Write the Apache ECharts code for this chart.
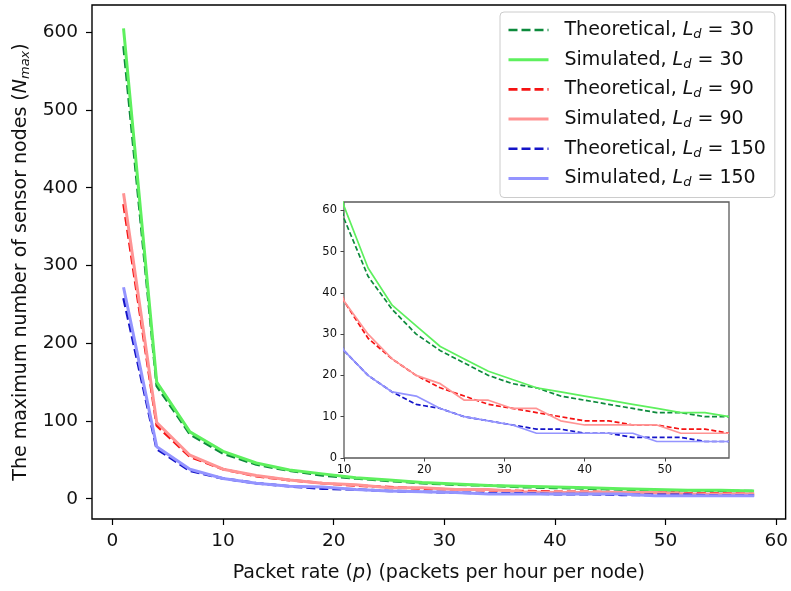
<!DOCTYPE html>
<html>
<head>
<meta charset="utf-8">
<script src="https://cdn.jsdelivr.net/npm/echarts@6/dist/echarts.min.js"></script>
<style>
  html, body { margin: 0; padding: 0; background: #ffffff; }
  #chart { width: 791px; height: 591px; }
</style>
</head>
<body>
<div id="chart"></div>
<script>
// Packet rate p (packets per hour per node)
const packetRate = [1, 4, 7, 10, 13, 16, 19, 22, 25, 28, 31, 34, 37, 40, 43, 46, 49, 52, 55, 58];

// Maximum number of sensor nodes N_max
const theoretical30 = [582, 145, 83, 58, 44, 36, 30, 26, 23, 20, 18, 17, 15, 14, 13, 12, 11, 11, 10, 10];
const simulated30   = [605, 150, 86, 61, 46, 37, 32, 27, 24, 21, 19, 17, 16, 15, 14, 13, 12, 11, 11, 10];
const theoretical90 = [379, 94, 54, 38, 29, 24, 20, 17, 15, 13, 12, 11, 10, 9, 9, 8, 8, 7, 7, 6];
const simulated90   = [393, 98, 56, 38, 30, 24, 20, 18, 14, 14, 12, 12, 9, 8, 8, 8, 8, 6, 6, 6];
const theoretical150 = [258, 64, 36, 26, 20, 16, 13, 12, 10, 9, 8, 7, 7, 6, 6, 5, 5, 5, 4, 4];
const simulated150   = [272, 67, 38, 26, 20, 16, 15, 12, 10, 9, 8, 6, 6, 6, 6, 6, 4, 4, 4, 4];

// Tick labels
const mainXTicks = [0, 10, 20, 30, 40, 50, 60];
const mainYTicks = [0, 100, 200, 300, 400, 500, 600];
const insetXTicks = [10, 20, 30, 40, 50];
const insetYTicks = [0, 10, 20, 30, 40, 50, 60];

const seriesDefs = [
  { name: 'Theoretical, Ld = 30',  kind: 'Theoretical', ld: 30,  values: theoretical30,  color: '#0d8a3c', dashed: true },
  { name: 'Simulated, Ld = 30',    kind: 'Simulated',   ld: 30,  values: simulated30,    color: '#5ef05e', dashed: false },
  { name: 'Theoretical, Ld = 90',  kind: 'Theoretical', ld: 90,  values: theoretical90,  color: '#f51212', dashed: true },
  { name: 'Simulated, Ld = 90',    kind: 'Simulated',   ld: 90,  values: simulated90,    color: '#ff9494', dashed: false },
  { name: 'Theoretical, Ld = 150', kind: 'Theoretical', ld: 150, values: theoretical150, color: '#1414c8', dashed: true },
  { name: 'Simulated, Ld = 150',   kind: 'Simulated',   ld: 150, values: simulated150,   color: '#9494ff', dashed: false }
];

const FONT = 'DejaVu Sans';
const TEXT = '#111111';

function pairs(values) {
  return packetRate.map((p, i) => [p, values[i]]);
}

function mainLineStyle(d) {
  return { color: d.color, width: d.dashed ? 2.6 : 3, type: d.dashed ? [9, 4] : 'solid' };
}

const series = [];
// Main panel
seriesDefs.forEach(d => {
  series.push({
    type: 'line', name: d.name, xAxisIndex: 0, yAxisIndex: 0, z: 3,
    data: pairs(d.values), symbol: 'none', showSymbol: false, silent: true,
    lineStyle: mainLineStyle(d),
    itemStyle: { color: d.color }
  });
});
// Zoomed-in panel (p from 10 to 58)
seriesDefs.forEach(d => {
  series.push({
    type: 'line', name: 'inset ' + d.name, xAxisIndex: 1, yAxisIndex: 1, z: 6,
    data: pairs(d.values), symbol: 'none', showSymbol: false, silent: true, clip: true,
    lineStyle: { color: d.color, width: 1.7, type: d.dashed ? [5, 2.5] : 'solid' },
    itemStyle: { color: d.color }
  });
});

const byName = {};
seriesDefs.forEach(d => { byName[d.name] = d; });

const chart = echarts.init(document.getElementById('chart'), null, { renderer: 'canvas' });
chart.setOption({
  animation: false,
  backgroundColor: '#ffffff',
  textStyle: { fontFamily: FONT },
  grid: [
    { left: 92, top: 5, width: 694, height: 514, show: true, borderColor: '#000000', borderWidth: 1.4, backgroundColor: 'transparent', containLabel: false },
    { left: 344, top: 202, width: 385, height: 256, show: true, borderColor: '#5a5a5a', borderWidth: 1.3, backgroundColor: '#ffffff', containLabel: false }
  ],
  xAxis: [
    {
      type: 'value', gridIndex: 0, min: -1.85, max: 60.85, position: 'bottom',
      axisLine: { show: false, onZero: false }, splitLine: { show: false },
      axisTick: { show: true, length: 6, lineStyle: { color: '#000', width: 1.2 }, customValues: mainXTicks },
      axisLabel: { show: true, margin: 13, fontSize: 18.5, color: TEXT, fontFamily: FONT, customValues: mainXTicks },
      name: 'Packet rate ({i|p}) (packets per hour per node)',
      nameLocation: 'middle', nameGap: 45,
      nameTextStyle: { fontSize: 19, color: TEXT, fontFamily: FONT,
        rich: { i: { fontSize: 19, fontStyle: 'italic', color: TEXT, fontFamily: FONT } } }
    },
    {
      type: 'value', gridIndex: 1, min: 10, max: 58, position: 'bottom',
      axisLine: { show: false, onZero: false }, splitLine: { show: false },
      axisTick: { show: true, length: 3.5, lineStyle: { color: '#444', width: 1 }, customValues: insetXTicks },
      axisLabel: { show: true, margin: 6, fontSize: 11.5, color: TEXT, fontFamily: FONT, customValues: insetXTicks }
    }
  ],
  yAxis: [
    {
      type: 'value', gridIndex: 0, min: -26.05, max: 635.05, position: 'left',
      axisLine: { show: false, onZero: false }, splitLine: { show: false },
      axisTick: { show: true, length: 6, lineStyle: { color: '#000', width: 1.2 }, customValues: mainYTicks },
      axisLabel: { show: true, margin: 14, fontSize: 18.5, color: TEXT, fontFamily: FONT, customValues: mainYTicks },
      name: 'The maximum number of sensor nodes ({i|N}{s|max})',
      nameLocation: 'middle', nameGap: 56, nameRotate: 90,
      nameTextStyle: { fontSize: 19, color: TEXT, fontFamily: FONT, lineHeight: 22,
        rich: {
          i: { fontSize: 19, fontStyle: 'italic', color: TEXT, fontFamily: FONT, lineHeight: 22 },
          s: { fontSize: 13, fontStyle: 'italic', color: TEXT, fontFamily: FONT, lineHeight: 13, verticalAlign: 'bottom' }
        } }
    },
    {
      type: 'value', gridIndex: 1, min: 0, max: 62, position: 'left',
      axisLine: { show: false, onZero: false }, splitLine: { show: false },
      axisTick: { show: true, length: 3.5, lineStyle: { color: '#444', width: 1 }, customValues: insetYTicks },
      axisLabel: { show: true, margin: 7, fontSize: 11.5, color: TEXT, fontFamily: FONT, customValues: insetYTicks }
    }
  ],
  legend: {
    orient: 'vertical', left: 500, top: 12,
    padding: [7, 9, 8, 7], itemWidth: 40, itemHeight: 14, itemGap: 7.7,
    backgroundColor: '#ffffff', borderColor: '#cccccc', borderWidth: 1, borderRadius: 4,
    itemStyle: { opacity: 0, borderWidth: 0 },
    data: seriesDefs.map(d => ({
      name: d.name,
      itemStyle: { opacity: 0, borderWidth: 0 },
      lineStyle: mainLineStyle(d)
    })),
    formatter: function (name) {
      const d = byName[name];
      return '{g|' + d.kind + ', }{i|L}{s|d}{t| = ' + d.ld + '}';
    },
    textStyle: {
      fontSize: 19, color: TEXT, fontFamily: FONT, lineHeight: 22,
      rich: {
        g: { fontSize: 19, color: TEXT, fontFamily: FONT, lineHeight: 22, padding: [0, 0, 0, 11] },
        t: { fontSize: 19, color: TEXT, fontFamily: FONT, lineHeight: 22 },
        i: { fontSize: 19, fontStyle: 'italic', color: TEXT, fontFamily: FONT, lineHeight: 22 },
        s: { fontSize: 13, fontStyle: 'italic', color: TEXT, fontFamily: FONT, lineHeight: 13, verticalAlign: 'bottom' }
      }
    }
  },
  series: series
});
</script>
</body>
</html>
